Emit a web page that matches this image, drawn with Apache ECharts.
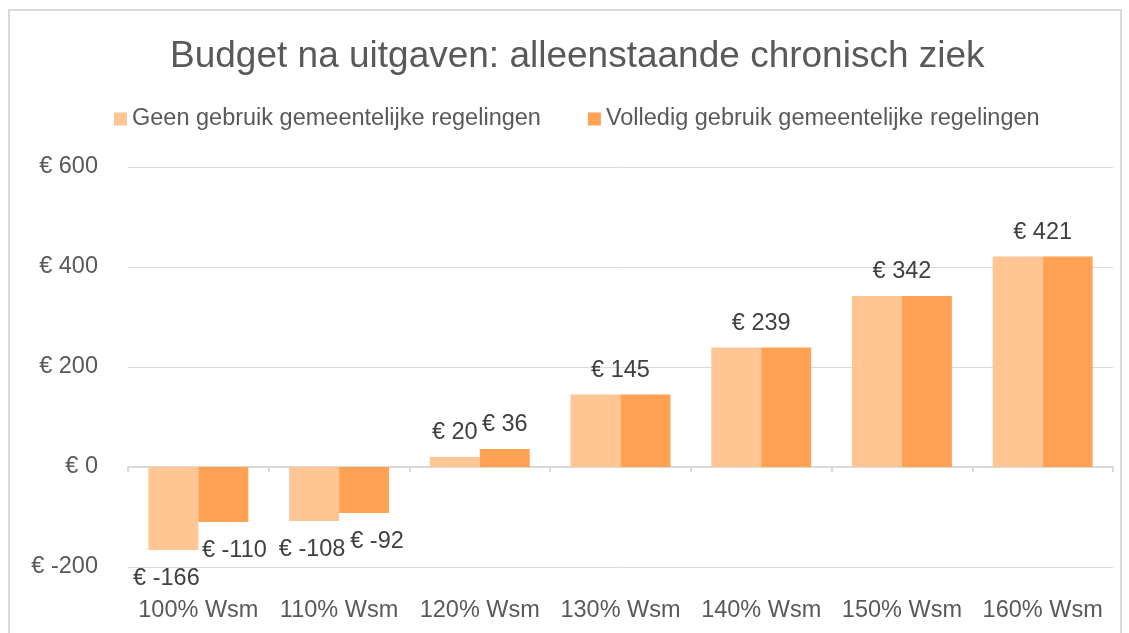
<!DOCTYPE html>
<html>
<head>
<meta charset="utf-8">
<script src="https://cdn.jsdelivr.net/npm/echarts@6/dist/echarts.min.js"></script>
<style>
  html, body { margin: 0; padding: 0; background: #fff; }
  #chart { width: 1129px; height: 633px; }
</style>
</head>
<body>
<div id="chart"></div>
<script>
const categories = ['100% Wsm', '110% Wsm', '120% Wsm', '130% Wsm', '140% Wsm', '150% Wsm', '160% Wsm'];
const seriesNames = ['Geen gebruik gemeentelijke regelingen', 'Volledig gebruik gemeentelijke regelingen'];
const geenGebruik = [-166, -108, 20, 145, 239, 342, 421];
const volledigGebruik = [-110, -92, 36, 145, 239, 342, 421];

const labelColor = '#404040';
const textColor = '#595959';
const font = 'Liberation Sans';
const fontSize = 23.5;

// Excel nudges the labels under the negative bars a bit sideways (per series)
const negNudge = [[-7, -2], [11, 13]];

// when both bars are equal Excel shows one label over the pair
function labelled(values, other, isFirst) {
    return values.map((v, i) => {
        const same = v === other[i];
        let off = [0, 0];
        if (same && isFirst) off = [25, 0];
        if (v < 0) off = [negNudge[isFirst ? 0 : 1][i] || 0, 0];
        return {
            value: v,
            label: {
                show: isFirst || !same,
                position: v < 0 ? 'bottom' : 'top',
                distance: v < 0 ? 17 : 12,
                offset: off
            }
        };
    });
}

const chart = echarts.init(document.getElementById('chart'));
chart.setOption({
    animation: false,
    title: {
        text: 'Budget na uitgaven: alleenstaande chronisch ziek',
        left: 165,
        top: 33,
        textStyle: { fontFamily: font, fontSize: 37, fontWeight: 'normal', color: textColor }
    },
    legend: {
        top: 102,
        left: 109,
        itemWidth: 13,
        itemHeight: 13,
        itemGap: 47,
        icon: 'rect',
        textStyle: { fontFamily: font, fontSize: fontSize, color: textColor },
        data: seriesNames
    },
    graphic: [{
        type: 'rect',
        shape: { x: 9, y: 10, width: 1112, height: 640 },
        style: { fill: 'none', stroke: '#d9d9d9', lineWidth: 2 },
        silent: true
    }],
    grid: { left: 128, right: 16, top: 167, bottom: 66 },
    xAxis: [{
        type: 'category',
        data: categories,
        axisLine: { onZero: true, lineStyle: { color: '#d9d9d9', width: 2 } },
        axisTick: { show: true, length: 5, lineStyle: { color: '#d9d9d9', width: 2 } },
        axisLabel: { show: false }
    }, {
        type: 'category',
        position: 'bottom',
        data: categories,
        axisLine: { show: false, onZero: false },
        axisTick: { show: false },
        axisLabel: { interval: 0, margin: 32, fontFamily: font, fontSize: fontSize, color: textColor }
    }],
    yAxis: {
        type: 'value',
        min: -200,
        max: 600,
        interval: 200,
        axisLine: { show: false },
        axisTick: { show: false },
        splitLine: { lineStyle: { color: '#d9d9d9', width: 1 } },
        axisLabel: {
            margin: 30,
            fontFamily: font,
            fontSize: fontSize,
            color: textColor,
            formatter: '€ {value}'
        }
    },
    series: [{
        name: seriesNames[0],
        type: 'bar',
        xAxisIndex: 0,
        barGap: '0%',
        barCategoryGap: '29%',
        itemStyle: { color: '#FFC593' },
        label: {
            fontFamily: font,
            fontSize: fontSize,
            color: labelColor,
            formatter: p => '€ ' + p.value
        },
        data: labelled(geenGebruik, volledigGebruik, true)
    }, {
        name: seriesNames[1],
        type: 'bar',
        xAxisIndex: 0,
        itemStyle: { color: '#FFA253' },
        label: {
            fontFamily: font,
            fontSize: fontSize,
            color: labelColor,
            formatter: p => '€ ' + p.value
        },
        data: labelled(volledigGebruik, geenGebruik, false)
    }]
});
</script>
</body>
</html>
